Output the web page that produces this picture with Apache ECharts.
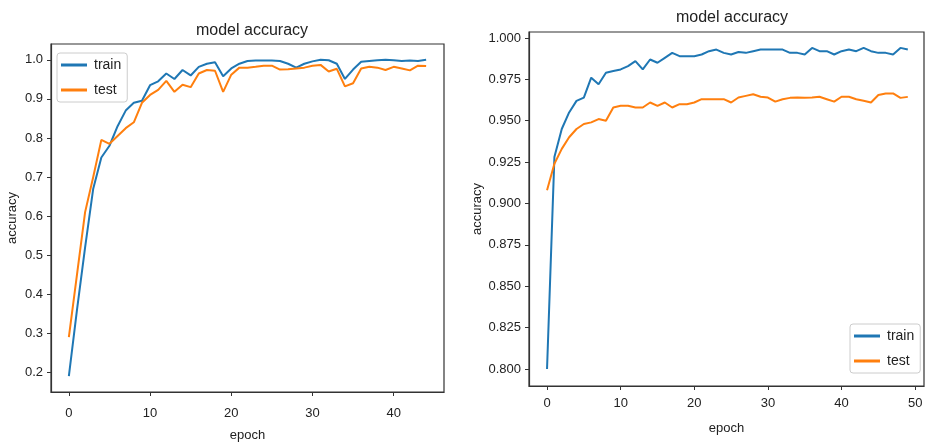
<!DOCTYPE html>
<html>
<head>
<meta charset="utf-8">
<script src="https://cdn.jsdelivr.net/npm/echarts@6/dist/echarts.min.js"></script>
<style>html,body{margin:0;padding:0;background:#fff;}#c{width:926px;height:443px;}</style>
</head>
<body>
<div id="c"></div>
<script>
var leftTrain = [0.19,0.36,0.52,0.67,0.75,0.78,0.83,0.87,0.89,0.895,0.935,0.945,0.965,0.951,0.974,0.96,0.982,0.99,0.994,0.958,0.978,0.99,0.997,0.998,0.998,0.998,0.997,0.99,0.98,0.99,0.996,1.0,0.999,0.99,0.951,0.975,0.995,0.997,0.999,1.0,0.999,0.997,0.998,0.997,1.0];
var leftTest = [0.29,0.45,0.61,0.70,0.795,0.785,0.805,0.825,0.84,0.89,0.91,0.923,0.946,0.918,0.936,0.93,0.965,0.974,0.972,0.918,0.962,0.98,0.98,0.982,0.985,0.985,0.975,0.976,0.978,0.98,0.985,0.987,0.97,0.977,0.932,0.94,0.978,0.982,0.98,0.974,0.982,0.978,0.973,0.985,0.984];
var rightTrain = [0.800,0.928,0.945,0.955,0.962,0.964,0.976,0.972,0.979,0.980,0.981,0.983,0.986,0.981,0.987,0.985,0.988,0.991,0.989,0.989,0.989,0.990,0.992,0.993,0.991,0.990,0.9915,0.991,0.992,0.993,0.993,0.993,0.993,0.991,0.991,0.990,0.994,0.992,0.992,0.990,0.992,0.993,0.992,0.994,0.992,0.991,0.991,0.990,0.994,0.993];
var rightTest = [0.908,0.924,0.933,0.940,0.945,0.948,0.949,0.951,0.950,0.958,0.959,0.959,0.958,0.958,0.961,0.959,0.961,0.958,0.960,0.960,0.961,0.963,0.963,0.963,0.963,0.961,0.964,0.965,0.966,0.9645,0.964,0.9615,0.963,0.9638,0.964,0.9638,0.964,0.9645,0.963,0.9615,0.9645,0.9645,0.963,0.962,0.961,0.9655,0.9665,0.9665,0.9638,0.9644];
var leftXTicks = [0,10,20,30,40];
var leftYTicks = [0.2,0.3,0.4,0.5,0.6,0.7,0.8,0.9,1.0];
var rightXTicks = [0,10,20,30,40,50];
var rightYTicks = [0.800,0.825,0.850,0.875,0.900,0.925,0.950,0.975,1.000];
var seriesNames = ['train','test'];
var titleText = 'model accuracy';
var xName = 'epoch';
var yName = 'accuracy';

var FONT = 'Liberation Sans';
var BLUE = '#1f77b4', ORANGE = '#ff7f0e';
function pairs(arr){ return arr.map(function(v,i){ return [i,v]; }); }
function xAxisCfg(idx, min, max, ticks, margin, gap){
  return {gridIndex: idx, type:'value', min:min, max:max,
    name: xName, nameLocation:'middle', nameGap: gap,
    nameTextStyle:{fontFamily:FONT,fontSize:13,color:'#222'},
    axisLine:{show:true,onZero:false,lineStyle:{color:'#333',width:1.2}},
    axisTick:{show:true,length:4,customValues:ticks,lineStyle:{color:'#333'}},
    axisLabel:{customValues:ticks,margin:margin,fontFamily:FONT,fontSize:13,color:'#222'},
    splitLine:{show:false}};
}
function yAxisCfg(idx, min, max, ticks, dec, gap){
  return {gridIndex: idx, type:'value', min:min, max:max,
    name: yName, nameLocation:'middle', nameGap: gap, nameRotate: 90,
    nameTextStyle:{fontFamily:FONT,fontSize:13,color:'#222'},
    axisLine:{show:true,onZero:false,lineStyle:{color:'#333',width:1.2}},
    axisTick:{show:true,length:4,customValues:ticks,lineStyle:{color:'#333'}},
    axisLabel:{customValues:ticks,margin:8,fontFamily:FONT,fontSize:13,color:'#222',
      formatter:function(v){ return Number(v).toFixed(dec); }},
    splitLine:{show:false}};
}
function legendCfg(left, top){
  return {orient:'vertical', left:left, top:top, data:seriesNames, icon:'rect',
    itemWidth:26, itemHeight:3, itemGap:11, padding:[5,6,5,4],
    borderColor:'#cccccc', borderWidth:1, borderRadius:3, backgroundColor:'#fff',
    selectedMode:false,
    textStyle:{fontFamily:FONT,fontSize:14,color:'#222',padding:[0,0,0,2]}};
}
function line(name, xi, data, color){
  return {name:name, type:'line', xAxisIndex:xi, yAxisIndex:xi, data:pairs(data),
    symbol:'none', lineStyle:{color:color,width:2}, itemStyle:{color:color}, animation:false, z:3};
}
var chart = echarts.init(document.getElementById('c'), null, {renderer:'canvas'});
chart.setOption({
  backgroundColor:'#fff',
  animation:false,
  title:[
    {text:titleText, left:247, top:18, textAlign:'center', textStyle:{fontFamily:FONT,fontSize:16,fontWeight:'normal',color:'#222'}},
    {text:titleText, left:727, top:5, textAlign:'center', textStyle:{fontFamily:FONT,fontSize:16,fontWeight:'normal',color:'#222'}}
  ],
  legend:[legendCfg(57,53), legendCfg(850,324)],
  grid:[
    {left:51, top:44, width:393, height:348, show:true, borderColor:'#333', borderWidth:1.2, backgroundColor:'#fff', containLabel:false, outerBoundsMode:'none'},
    {left:529, top:32, width:395, height:354, show:true, borderColor:'#333', borderWidth:1.2, backgroundColor:'#fff', containLabel:false, outerBoundsMode:'none'}
  ],
  xAxis:[xAxisCfg(0,-2.2,46.2,leftXTicks,15,37), xAxisCfg(1,-2.45,51.2,rightXTicks,11,36)],
  yAxis:[yAxisCfg(0,0.1495,1.0405,leftYTicks,1,32), yAxisCfg(1,0.7897,1.0036,rightYTicks,3,45)],
  series:[
    line(seriesNames[0],0,leftTrain,BLUE), line(seriesNames[1],0,leftTest,ORANGE),
    line(seriesNames[0],1,rightTrain,BLUE), line(seriesNames[1],1,rightTest,ORANGE)
  ]
});
</script>
</body>
</html>
